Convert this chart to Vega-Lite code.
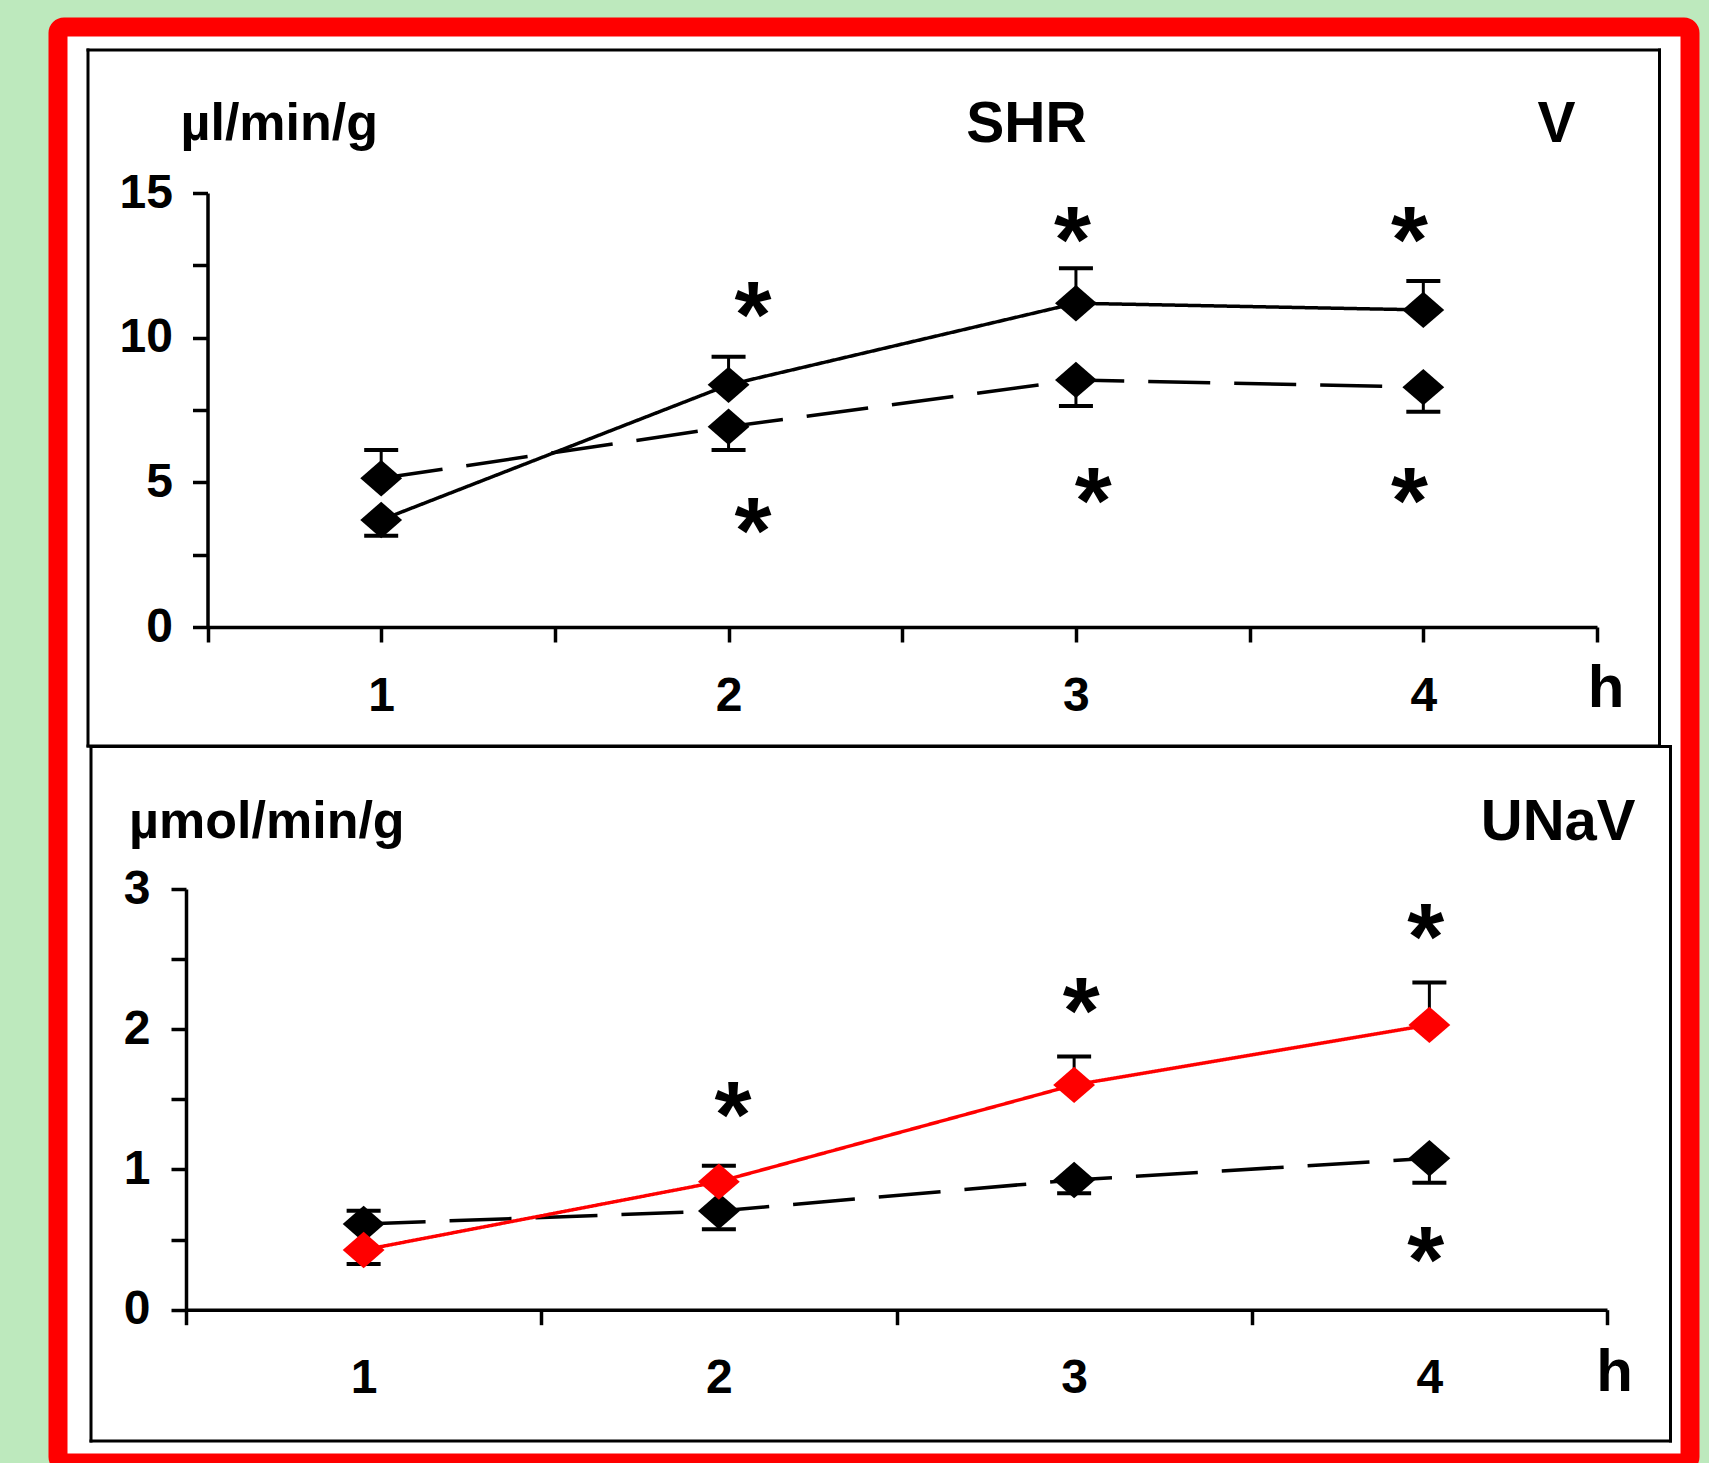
{
  "$schema": "https://vega.github.io/schema/vega-lite/v6.json",
  "width": 1632,
  "height": 1436,
  "autosize": {"type": "none"},
  "padding": {"left": 58, "top": 27, "right": 19, "bottom": 0},
  "background": "#bde9bd",
  "datasets": {
    "v": [
      {"hour": 1, "group": "control", "mean": 5.14, "err": 6.12},
      {"hour": 2, "group": "control", "mean": 6.92, "err": 6.12},
      {"hour": 3, "group": "control", "mean": 8.54, "err": 7.64},
      {"hour": 4, "group": "control", "mean": 8.29, "err": 7.44},
      {"hour": 1, "group": "treated", "mean": 3.70, "err": 3.15},
      {"hour": 2, "group": "treated", "mean": 8.37, "err": 9.34},
      {"hour": 3, "group": "treated", "mean": 11.19, "err": 12.40},
      {"hour": 4, "group": "treated", "mean": 10.96, "err": 11.96}
    ],
    "vstars": [
      {"hour": 2.07, "value": 11.31},
      {"hour": 2.07, "value": 3.85},
      {"hour": 2.99, "value": 13.9},
      {"hour": 3.05, "value": 4.88},
      {"hour": 3.96, "value": 13.9},
      {"hour": 3.96, "value": 4.88}
    ],
    "unav": [
      {"hour": 1, "group": "control", "mean": 0.611, "err": 0.706},
      {"hour": 2, "group": "control", "mean": 0.704, "err": 0.573},
      {"hour": 3, "group": "control", "mean": 0.925, "err": 0.830},
      {"hour": 4, "group": "control", "mean": 1.080, "err": 0.906},
      {"hour": 1, "group": "treated", "mean": 0.426, "err": 0.326},
      {"hour": 2, "group": "treated", "mean": 0.913, "err": 1.027},
      {"hour": 3, "group": "treated", "mean": 1.603, "err": 1.805},
      {"hour": 4, "group": "treated", "mean": 2.031, "err": 2.333}
    ],
    "unavstars": [
      {"hour": 2.04, "value": 1.50},
      {"hour": 3.02, "value": 2.245},
      {"hour": 3.99, "value": 2.77},
      {"hour": 3.99, "value": 0.47}
    ]
  },
  "layer": [
    {
      "data": {"name": "v"},
      "encoding": {
        "x": {"field": "hour", "type": "quantitative",
          "scale": {"domain": [0.154552, 4.678474], "range": [29.5, 1601], "nice": false, "zero": false},
          "axis": {"orient": "bottom", "offset": -717.5, "labels": false, "ticks": false, "title": null, "domainWidth": 3, "domainCap": "square"}},
        "y": {"field": "err", "type": "quantitative",
          "scale": {"domain": [-4.095622, 19.959677], "range": [718.5, 22.5], "nice": false, "zero": false},
          "axis": {"orient": "left", "offset": -29.5, "labels": false, "ticks": false, "title": null, "domainWidth": 3, "domainCap": "square"}}
      },
      "layer": [
        {"mark": {"type": "rule", "color": "black", "strokeWidth": 3}, "encoding": {"y2": {"field": "mean"}}},
        {"mark": {"type": "tick", "orient": "horizontal", "color": "black", "size": 34, "thickness": 4, "opacity": 1}}
      ]
    },
    {
      "data": {"name": "vstars"},
      "mark": {"type": "text", "text": "*", "fontSize": 95, "font": "Liberation Sans", "fontWeight": "bold", "baseline": "alphabetic", "align": "center", "dy": 47, "color": "black"},
      "encoding": {
        "x": {"field": "hour", "type": "quantitative",
          "scale": {"domain": [0.154552, 4.678474], "range": [29.5, 1601], "nice": false, "zero": false},
          "axis": {"orient": "top", "offset": -22.5, "labels": false, "ticks": false, "domainWidth": 3, "domainCap": "square",
            "title": "SHR", "titleX": 968, "titleY": 92, "titleAlign": "center", "titleBaseline": "alphabetic", "titleFontSize": 57, "titleAngle": 0}},
        "y": {"field": "value", "type": "quantitative",
          "scale": {"domain": [-4.095622, 19.959677], "range": [718.5, 22.5], "nice": false, "zero": false},
          "axis": {"orient": "right", "offset": -31, "labels": false, "ticks": false, "domainWidth": 3, "domainCap": "square",
            "title": "V", "titleX": -103, "titleY": 114.7, "titleAlign": "center", "titleBaseline": "alphabetic", "titleFontSize": 57, "titleAngle": 0}}
      }
    },
    {
      "data": {"name": "v"},
      "encoding": {
        "x": {"field": "hour", "type": "quantitative",
          "scale": {"domain": [0.5, 4.5], "range": [149.5, 1539], "nice": false, "zero": false},
          "axis": {"orient": "bottom", "offset": -836, "values": [0.5, 1, 1.5, 2, 2.5, 3, 3.5, 4, 4.5],
            "labelExpr": "datum.value % 1 === 0 ? format(datum.value, 'd') : ''", "labelOverlap": false, "labelFlush": false,
            "tickSize": 15, "labelPadding": 30,
            "title": "h", "titleX": 1547.5, "titleY": 79, "titleAlign": "center", "titleBaseline": "alphabetic", "titleFontSize": 60, "titleAngle": 0}},
        "y": {"field": "mean", "type": "quantitative",
          "scale": {"domain": [0, 15], "range": [600, 166], "nice": false, "zero": false},
          "axis": {"orient": "left", "offset": -149.5, "values": [0, 2.5, 5, 7.5, 10, 12.5, 15],
            "labelExpr": "datum.value % 5 === 0 ? format(datum.value, 'd') : ''", "labelOverlap": false, "labelFlush": false,
            "tickSize": 15, "labelPadding": 20,
            "title": "µl/min/g", "titleX": -27.5, "titleY": 112, "titleAlign": "left", "titleBaseline": "alphabetic", "titleFontSize": 52, "titleAngle": 0}}
      },
      "layer": [
        {"mark": {"type": "line", "color": "black", "strokeWidth": 3.5},
          "encoding": {"strokeDash": {"field": "group", "type": "nominal", "scale": {"domain": ["treated", "control"], "range": [[1, 0], [62, 24]]}, "legend": null}}},
        {"mark": {"type": "point", "shape": "M-1,0L0,-0.87L1,0L0,0.87Z", "filled": true, "size": 1750, "color": "black", "opacity": 1, "strokeWidth": 0}}
      ]
    },
    {
      "data": {"name": "unav"},
      "encoding": {
        "x": {"field": "hour", "type": "quantitative",
          "scale": {"domain": [0.231175, 4.67734], "range": [32.5, 1612], "nice": false, "zero": false},
          "axis": {"orient": "bottom", "offset": -22.5, "labels": false, "ticks": false, "title": null, "domainWidth": 3, "domainCap": "square"}},
        "y": {"field": "err", "type": "quantitative",
          "scale": {"domain": [-0.932732, 4.019729], "range": [1413.5, 719], "nice": false, "zero": false},
          "axis": {"orient": "left", "offset": -32.5, "labels": false, "ticks": false, "title": null, "domainWidth": 3, "domainCap": "square"}}
      },
      "layer": [
        {"mark": {"type": "rule", "color": "black", "strokeWidth": 3}, "encoding": {"y2": {"field": "mean"}}},
        {"mark": {"type": "tick", "orient": "horizontal", "color": "black", "size": 34, "thickness": 4, "opacity": 1}}
      ]
    },
    {
      "data": {"name": "unavstars"},
      "mark": {"type": "text", "text": "*", "fontSize": 95, "font": "Liberation Sans", "fontWeight": "bold", "baseline": "alphabetic", "align": "center", "dy": 48, "color": "black"},
      "encoding": {
        "x": {"field": "hour", "type": "quantitative",
          "scale": {"domain": [0.231175, 4.67734], "range": [32.5, 1612], "nice": false, "zero": false},
          "axis": {"orient": "top", "offset": -719, "labels": false, "ticks": false, "title": null, "domainWidth": 3, "domainCap": "square"}},
        "y": {"field": "value", "type": "quantitative",
          "scale": {"domain": [-0.932732, 4.019729], "range": [1413.5, 719], "nice": false, "zero": false},
          "axis": {"orient": "right", "offset": -20, "labels": false, "ticks": false, "domainWidth": 3, "domainCap": "square",
            "title": "UNaV", "titleX": -35, "titleY": 812, "titleAlign": "right", "titleBaseline": "alphabetic", "titleFontSize": 58, "titleAngle": 0}}
      }
    },
    {
      "data": {"name": "unav"},
      "encoding": {
        "x": {"field": "hour", "type": "quantitative",
          "scale": {"domain": [0.5, 4.5], "range": [128, 1549], "nice": false, "zero": false},
          "axis": {"orient": "bottom", "offset": -153.3, "values": [0.5, 1, 1.5, 2, 2.5, 3, 3.5, 4, 4.5],
            "labelExpr": "datum.value % 1 === 0 ? format(datum.value, 'd') : ''", "labelOverlap": false, "labelFlush": false,
            "tickOpacity": {"condition": {"test": "datum.value % 1 === 0", "value": 0}, "value": 1},
            "tickSize": 15, "labelPadding": 30,
            "title": "h", "titleX": 1556, "titleY": 80.3, "titleAlign": "center", "titleBaseline": "alphabetic", "titleFontSize": 60, "titleAngle": 0}},
        "y": {"field": "mean", "type": "quantitative",
          "scale": {"domain": [0, 3], "range": [1282.7, 862], "nice": false, "zero": false},
          "axis": {"orient": "left", "offset": -128, "values": [0, 0.5, 1, 1.5, 2, 2.5, 3],
            "labelExpr": "datum.value % 1 === 0 ? format(datum.value, 'd') : ''", "labelOverlap": false, "labelFlush": false,
            "tickSize": 15, "labelPadding": 21,
            "title": "µmol/min/g", "titleX": -57.4, "titleY": 810, "titleAlign": "left", "titleBaseline": "alphabetic", "titleFontSize": 52, "titleAngle": 0}}
      },
      "layer": [
        {"mark": {"type": "line", "strokeWidth": 3.5},
          "encoding": {
            "color": {"field": "group", "type": "nominal", "scale": {"domain": ["treated", "control"], "range": ["#ff0000", "#000000"]}, "legend": null},
            "strokeDash": {"field": "group", "type": "nominal", "scale": {"domain": ["treated", "control"], "range": [[1, 0], [62, 24]]}, "legend": null}}},
        {"mark": {"type": "point", "shape": "M-1,0L0,-0.87L1,0L0,0.87Z", "filled": true, "size": 1750, "opacity": 1, "strokeWidth": 0},
          "encoding": {
            "color": {"field": "group", "type": "nominal", "scale": {"domain": ["treated", "control"], "range": ["#ff0000", "#000000"]}, "legend": null}}}
      ]
    }
  ],
  "resolve": {"scale": {"x": "independent", "y": "independent"}},
  "config": {
    "view": {"stroke": "#ff0000", "strokeWidth": 19, "fill": "#ffffff", "cornerRadius": 6},
    "axis": {
      "labelFont": "Liberation Sans", "titleFont": "Liberation Sans",
      "labelFontWeight": "bold", "titleFontWeight": "bold",
      "labelColor": "#000000", "titleColor": "#000000",
      "domainColor": "#000000", "tickColor": "#000000",
      "labelFontSize": 48, "grid": false,
      "domainWidth": 3.5, "tickWidth": 3.5
    }
  }
}
